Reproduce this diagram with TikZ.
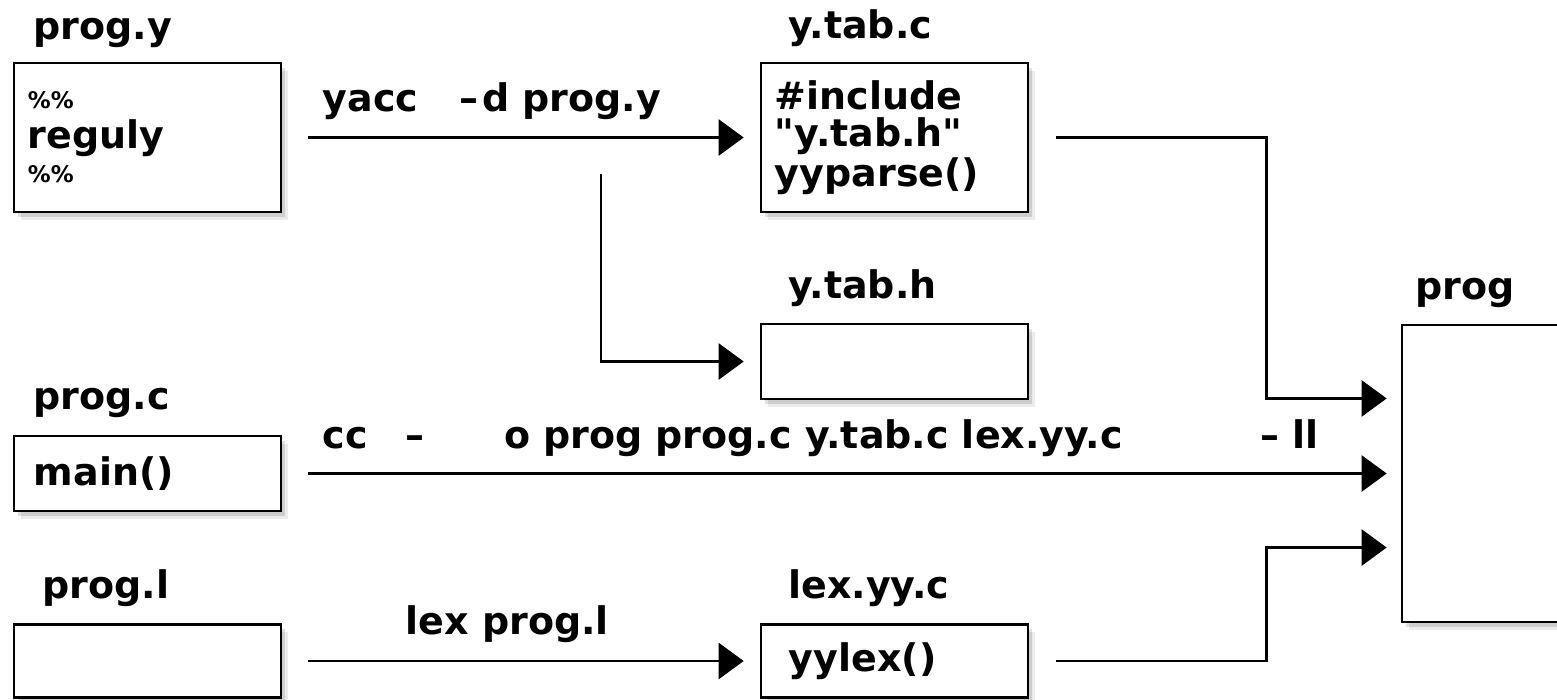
\documentclass[tikz,border=0pt]{standalone}
\usepackage{fontspec}
\setmainfont{DejaVu Sans}[Ligatures=TeXOff]
\usepackage{tikz}
\usetikzlibrary{arrows.meta,positioning,calc,shadows}
\lineskiplimit=-100pt

\begin{document}
\begin{tikzpicture}[x=0.01cm,y=-0.01cm,
    font=\fontsize{10.8}{10.5}\selectfont\bfseries,
    box/.style={draw,line width=0.7pt,fill=white,
        drop shadow={shadow xshift=0.07cm,shadow yshift=-0.08cm,fill=black,opacity=0.08},
        drop shadow={shadow xshift=0.04cm,shadow yshift=-0.05cm,fill=black,opacity=0.12},
        minimum width=2.67cm,inner xsep=0.14cm,text width=2.39cm,align=left},
    tall/.style={box,minimum height=1.49cm},
    flat/.style={box,minimum height=0.75cm},
    fname/.style={anchor=base west,inner sep=0pt},
    cmd/.style={anchor=base west,inner sep=0pt},
    arr/.style={line width=0.7pt,-{Triangle[length=0.25cm,width=0.36cm]}}]
    \clip (0,0) rectangle (1557,700);

    % source files
    \node[tall] (py) at (147.5,137.5) {{\fontsize{6.5}{6.5}\selectfont\%\%}\\[0.03cm]reguly\\[-0.03cm]{\fontsize{6.5}{6.5}\selectfont\%\%}};
    \node[flat] (pc) at (147.5,473.5) {\hspace*{0.06cm}main()};
    \node[flat,minimum height=0.73cm] (pl) at (147.5,661) {};

    % generated files
    \node[tall] (ytc) at (894.5,137.5) {\#include\\"y.tab.h"\\yyparse()};
    \node[flat] (yth) at (894.5,361.5) {};
    \node[flat,minimum height=0.73cm] (lyc) at (894.5,661) {\hspace*{0.14cm}yylex()};

    % executable
    \node[draw,line width=0.7pt,fill=white,minimum width=3cm,minimum height=2.97cm,
        drop shadow={shadow xshift=0.07cm,shadow yshift=-0.08cm,fill=black,opacity=0.08},
        drop shadow={shadow xshift=0.04cm,shadow yshift=-0.05cm,fill=black,opacity=0.12}] (prog) at (1552,473.5) {};

    % file names
    \node[fname] at ([shift={(20,-22)}]py.north west) {prog.y};
    \node[fname] at ([shift={(28,-23)}]ytc.north west) {y.tab.c};
    \node[fname] at ([shift={(28,-24)}]yth.north west) {y.tab.h};
    \node[fname] at ([shift={(20,-25)}]pc.north west) {prog.c};
    \node[fname] at ([shift={(29,-25)}]pl.north west) {prog.l};
    \node[fname] at ([shift={(28,-25)}]lyc.north west) {lex.yy.c};
    \node[fname] at ([shift={(14,-24)}]prog.north west) {prog};

    % inputs of prog
    \coordinate (inC) at ([yshift=0.75cm]prog.west);
    \coordinate (inL) at ([yshift=-0.74cm]prog.west);
    \coordinate (split) at (601,174);

    % yacc
    \draw[arr] ([xshift=0.26cm]py.east) -- ([xshift=-0.16cm]ytc.west);
    \node[cmd] at (322,111) {yacc\hspace{0.28cm} –\hspace{0.04cm}d prog.y};
    \draw[arr] (split) |- ([xshift=-0.16cm]yth.west);

    % cc
    \draw[arr] ([xshift=0.26cm]pc.east) -- ([xshift=-0.14cm]prog.west);
    \node[cmd] at (322,448) {cc\hspace{0.25cm} –\hspace{0.79cm}o prog prog.c y.tab.c lex.yy.c\hspace{1.38cm}– ll};

    % lex
    \draw[arr] ([xshift=0.26cm]pl.east) -- ([xshift=-0.16cm]lyc.west);
    \node[cmd] at (405,634) {lex prog.l};

    % into prog
    \draw[arr] ([xshift=0.27cm]ytc.east) -| ([xshift=-1.34cm]inC) -- ([xshift=-0.14cm]inC);
    \draw[arr] ([xshift=0.27cm]lyc.east) -| ([xshift=-1.34cm]inL) -- ([xshift=-0.14cm]inL);
\end{tikzpicture}
\end{document}
